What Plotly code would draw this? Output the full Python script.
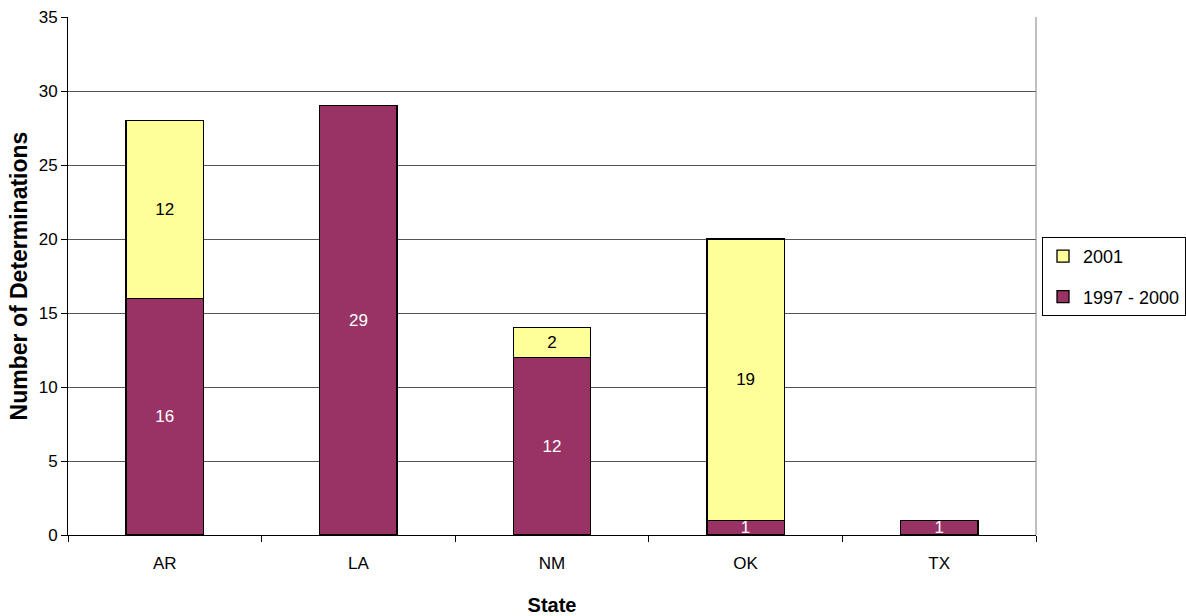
import plotly.graph_objects as go

states = ["AR", "LA", "NM", "OK", "TX"]
s_1997_2000 = [16, 29, 12, 1, 1]
s_2001 = [12, 0, 2, 19, 0]
y_ticks = [0, 5, 10, 15, 20, 25, 30, 35]

FONT = "Liberation Sans, Arial, sans-serif"

def labels(vals):
    return [str(v) if v else "" for v in vals]

fig = go.Figure()
fig.add_trace(go.Bar(
    x=states, y=s_1997_2000, name="1997 - 2000", legendgroup="a", legendrank=2,
    marker=dict(color="#993366", line=dict(color="black", width=1.3)),
    text=labels(s_1997_2000), textposition="inside", insidetextanchor="middle",
    textangle=0, constraintext="none",
    textfont=dict(color="white", size=17, family=FONT),
    width=0.4,
))
fig.add_trace(go.Bar(
    x=states, y=s_2001, name="2001", legendgroup="b", legendrank=1,
    marker=dict(color="#FFFF99", line=dict(color="black", width=1.3)),
    text=labels(s_2001), textposition="inside", insidetextanchor="middle",
    textangle=0, constraintext="none",
    textfont=dict(color="black", size=17, family=FONT),
    width=0.4,
))

fig.update_layout(
    barmode="stack",
    width=1186, height=616,
    margin=dict(l=68, r=150, t=17, b=81),
    paper_bgcolor="white", plot_bgcolor="white",
    font=dict(family=FONT, size=17, color="black"),
    showlegend=True,
    legend=dict(
        xref="container", yref="container",
        x=1042 / 1186, y=1 - 237 / 616, xanchor="left", yanchor="top",
        traceorder="grouped",
        bordercolor="black", borderwidth=1,
        font=dict(size=18),
        itemwidth=30,
        tracegroupgap=14,
    ),
    uniformtext=dict(minsize=17, mode="show"),
)
fig.update_xaxes(
    title=dict(text="<b>State</b>", font=dict(size=20), standoff=26),
    automargin=False,
    tickson="boundaries", ticks="outside", ticklen=6, tickcolor="black",
    tickfont=dict(size=17), ticklabelstandoff=13,
    showline=True, linecolor="black", linewidth=1,
)
fig.update_yaxes(
    title=dict(text="<b>Number of Determinations</b>", font=dict(size=23), standoff=4),
    automargin=False,
    range=[0, 35], tickvals=y_ticks,
    ticks="outside", ticklen=6, tickcolor="black",
    tickfont=dict(size=17),
    showline=True, linecolor="black", linewidth=1,
    showgrid=True, gridcolor="#555555", gridwidth=1,
    zeroline=False,
)
# right border of plot area
fig.add_shape(type="line", xref="paper", yref="paper", x0=1, x1=1, y0=0, y1=1,
              line=dict(color="gray", width=1))

fig.write_html("out.html", post_script="document.body.style.margin='0';",
               config={"displayModeBar": False})
